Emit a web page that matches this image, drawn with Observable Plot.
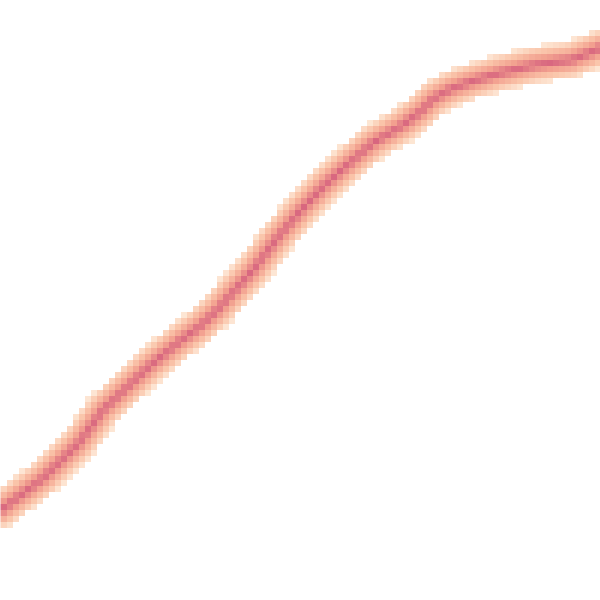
<!DOCTYPE html>
<html>
<head>
<meta charset="utf-8">
<script src="https://cdn.jsdelivr.net/npm/d3@7"></script>
<script src="https://cdn.jsdelivr.net/npm/@observablehq/plot@0.6"></script>
<style>
  body { margin: 0; background: #fff; }
</style>
</head>
<body>
<div id="chart"></div>
<script>
// Centerline of the band (data units 0–100)
const xs = [0, 7, 13, 17, 25, 30, 33, 36, 39, 42, 46, 50, 54, 58, 62, 67, 70, 72, 75, 78, 83, 89, 95, 100];
const ys = [15, 20.3, 26.2, 31.7, 39.2, 43.3, 45.5, 48.3, 51.7, 55, 60.3, 65, 69.2, 72.8, 76.2, 79.2, 81.5, 83.5, 85.2, 86.3, 87.8, 89.2, 90, 92];
const colors = ["#fde6d4", "#fac4a9", "#f2a08f", "#d8667f"];

const pts = xs.map((x, i) => [x, ys[i]]);

function distToLine(px, py) {
  let best = Infinity;
  for (let i = 0; i < pts.length - 1; i++) {
    const [ax, ay] = pts[i], [bx, by] = pts[i + 1];
    const dx = bx - ax, dy = by - ay;
    const t = Math.max(0, Math.min(1, ((px - ax) * dx + (py - ay) * dy) / (dx * dx + dy * dy)));
    const d = Math.hypot(px - (ax + t * dx), py - (ay + t * dy));
    if (d < best) best = d;
  }
  return best;
}

const chart = Plot.plot({
  width: 600,
  height: 600,
  margin: 0,
  x: {domain: [0, 100], axis: null},
  y: {domain: [0, 100], axis: null},
  color: {type: "linear", domain: [0, 1], range: colors, interpolate: "rgb"},
  marks: [
    Plot.raster({
      x1: 0, x2: 100, y1: 0, y2: 100,
      pixelSize: 6,
      imageRendering: "pixelated",
      fill: (x, y) => {
        const d = distToLine(x, y);
        return d > 3.1 ? NaN : 1 - d / 3.1;
      }
    })
  ]
});
document.getElementById("chart").append(chart);
</script>
</body>
</html>
